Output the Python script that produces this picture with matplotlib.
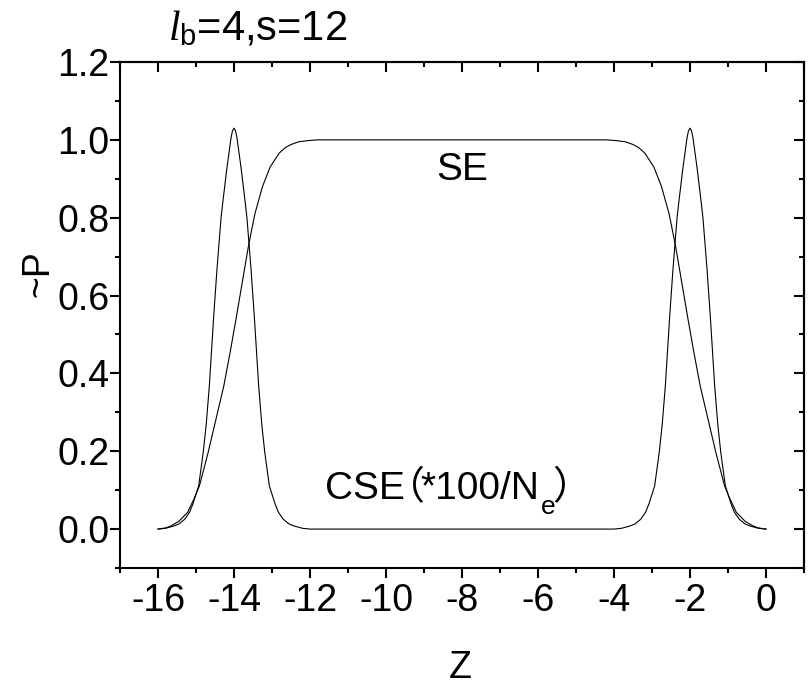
import matplotlib
matplotlib.use('Agg')
import matplotlib.pyplot as plt
from matplotlib.ticker import MultipleLocator

plt.rcParams['font.family'] = ['Liberation Sans', 'Noto Sans CJK SC', 'DejaVu Sans']
plt.rcParams['mathtext.fontset'] = 'custom'
plt.rcParams['mathtext.rm'] = 'Liberation Sans'
plt.rcParams['mathtext.it'] = 'Liberation Serif:italic'
plt.rcParams['axes.unicode_minus'] = False

# SE curve
se_z = [-16.0, -15.8, -15.66, -15.45, -15.22, -15.05, -14.91, -14.68, -14.48, -14.27,
        -14.1, -13.95, -13.8, -13.62, -13.45, -13.25, -13.05, -12.81, -12.65, -12.5,
        -12.3, -12.06, -11.8, -8.0,
        -4.2, -3.94, -3.7, -3.5, -3.35, -3.19, -2.95, -2.75, -2.55, -2.38,
        -2.2, -2.05, -1.9, -1.73, -1.52, -1.32, -1.09, -0.95, -0.78, -0.55,
        -0.34, -0.2, 0.0]
se_p = [0.0, 0.003, 0.008, 0.02, 0.043, 0.078, 0.111, 0.197, 0.28, 0.367,
        0.455, 0.538, 0.624, 0.727, 0.81, 0.880, 0.93, 0.966, 0.98, 0.988,
        0.995, 0.998, 1.0, 1.0,
        1.0, 0.998, 0.995, 0.988, 0.98, 0.966, 0.93, 0.880, 0.81, 0.727,
        0.624, 0.538, 0.455, 0.367, 0.28, 0.197, 0.111, 0.078, 0.043, 0.02,
        0.008, 0.003, 0.0]

# CSE curve (*100/Ne)
cse_z = [-16.0, -15.8, -15.58, -15.45, -15.3, -15.17, -15.08, -14.93, -14.81, -14.73,
         -14.65, -14.54, -14.45, -14.345, -14.3, -14.245, -14.19, -14.13, -14.075, -14.04,
         -14.0,
         -13.96, -13.925, -13.87, -13.81, -13.755, -13.7, -13.655, -13.55, -13.46, -13.35,
         -13.27, -13.19, -13.07, -12.92, -12.83, -12.7, -12.55, -12.42, -12.2, -12.0,
         -4.0, -3.8, -3.58, -3.45, -3.3, -3.17, -3.08, -2.93, -2.81, -2.73,
         -2.65, -2.54, -2.45, -2.345, -2.3, -2.245, -2.19, -2.13, -2.075, -2.04,
         -2.0,
         -1.96, -1.925, -1.87, -1.81, -1.755, -1.7, -1.655, -1.55, -1.46, -1.35,
         -1.27, -1.19, -1.07, -0.92, -0.83, -0.7, -0.55, -0.42, -0.2, 0.0]
cse_p = [0.0, 0.002, 0.008, 0.013, 0.025, 0.043, 0.065, 0.111, 0.197, 0.27,
         0.367, 0.538, 0.665, 0.795, 0.835, 0.88, 0.925, 0.968, 1.007, 1.023,
         1.03,
         1.023, 1.007, 0.968, 0.925, 0.88, 0.835, 0.795, 0.665, 0.538, 0.367,
         0.27, 0.197, 0.111, 0.065, 0.043, 0.025, 0.013, 0.008, 0.002, 0.0,
         0.0, 0.002, 0.008, 0.013, 0.025, 0.043, 0.065, 0.111, 0.197, 0.27,
         0.367, 0.538, 0.665, 0.795, 0.835, 0.88, 0.925, 0.968, 1.007, 1.023,
         1.03,
         1.023, 1.007, 0.968, 0.925, 0.88, 0.835, 0.795, 0.665, 0.538, 0.367,
         0.27, 0.197, 0.111, 0.065, 0.043, 0.025, 0.013, 0.008, 0.002, 0.0]

fs = 27

fig = plt.figure(figsize=(8.12, 6.86), dpi=100)
ax = fig.add_axes([120/812, 118/686, 684/812, 506/686])

ax.plot(se_z, se_p, color='black', linewidth=0.8)
ax.plot(cse_z, cse_p, color='black', linewidth=0.8)

ax.set_xlim(-17, 1)
ax.set_ylim(-0.1, 1.2)
ax.xaxis.set_major_locator(MultipleLocator(2))
ax.xaxis.set_minor_locator(MultipleLocator(1))
ax.yaxis.set_minor_locator(MultipleLocator(0.1))
ax.set_yticks([0.0, 0.2, 0.4, 0.6, 0.8, 1.0, 1.2])
ax.set_yticklabels(['0.0', '0.2', '0.4', '0.6', '0.8', '1.0', '1.2'])

for sp in ax.spines.values():
    sp.set_linewidth(1.5)

ax.tick_params(which='major', direction='out', length=7, width=1.5,
               labelsize=fs, top=False, right=False)
ax.tick_params(which='minor', direction='out', length=3.5, width=1.5,
               top=False, right=False)
ax.tick_params(axis='x', which='major', pad=4)
ax.tick_params(axis='y', which='major', pad=0.5)

# mirrored ticks on top and right, pointing in
top = ax.secondary_xaxis('top')
top.xaxis.set_major_locator(MultipleLocator(2))
top.xaxis.set_minor_locator(MultipleLocator(1))
top.tick_params(which='major', direction='in', length=7, width=1.5, labeltop=False)
top.tick_params(which='minor', direction='in', length=3.5, width=1.5)
top.spines['top'].set_linewidth(1.5)

right = ax.secondary_yaxis('right')
right.yaxis.set_major_locator(MultipleLocator(0.2))
right.yaxis.set_minor_locator(MultipleLocator(0.1))
right.tick_params(which='major', direction='in', length=7, width=1.5, labelright=False)
right.tick_params(which='minor', direction='in', length=3.5, width=1.5)
right.spines['right'].set_linewidth(1.5)

ax.text(-8.68, 0.897, 'SE', fontsize=fs + 1, ha='left', va='baseline')

# CSE（*100/Ne） built in pieces so the full-width brackets can use the CJK font
yb = 0.077
t1 = ax.text(-11.6, yb, 'CSE', fontsize=fs + 1, ha='left', va='baseline')
t2 = ax.annotate('（', xy=(1, yb), xycoords=(t1, 'data'), xytext=(-14, 0),
                 textcoords='offset points', fontsize=fs + 1, ha='left', va='baseline')
t3 = ax.annotate('*100/N', xy=(1, yb), xycoords=(t2, 'data'), xytext=(-3, 0),
                 textcoords='offset points', fontsize=fs + 1, ha='left', va='baseline')
t4 = ax.annotate('e', xy=(1, yb), xycoords=(t3, 'data'), xytext=(1, -11),
                 textcoords='offset points', fontsize=19, ha='left', va='baseline')
ax.annotate('）', xy=(1, yb), xycoords=(t4, 'data'), xytext=(-2, 0),
            textcoords='offset points', fontsize=fs + 1, ha='left', va='baseline')

fig.text(168/812, (686-40)/686, '$\\mathit{l}_\\mathrm{b}$=4,s=12', fontsize=fs + 3,
         ha='left', va='baseline')
fig.text(38/812, (686-274)/686, '~P', fontsize=fs, rotation=90, ha='center', va='center')
fig.text(460/812, (686-678)/686, 'Z', fontsize=fs, ha='center', va='baseline')

fig.savefig('out.png', dpi=100)
